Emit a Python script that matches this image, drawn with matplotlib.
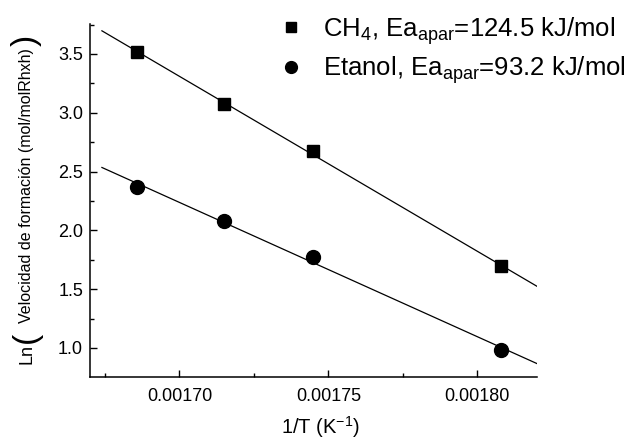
import numpy as np
import matplotlib
matplotlib.use('Agg')
import matplotlib.pyplot as plt
from matplotlib.ticker import MultipleLocator

plt.rcParams['font.family'] = ['Liberation Sans', 'DejaVu Sans']
plt.rcParams['mathtext.fontset'] = 'custom'
plt.rcParams['mathtext.rm'] = 'Liberation Sans'
plt.rcParams['mathtext.it'] = 'Liberation Sans:italic'

# 1/T (K^-1) at 320, 310, 300, 280 C
inv_T = [0.0016859, 0.0017148, 0.0017448, 0.0018078]
ln_ch4 = [3.515, 3.077, 2.672, 1.695]
ln_etanol = [2.365, 2.080, 1.775, 0.980]

label_ch4 = r'CH$_4$, Ea$_{\mathrm{apar}}$=124.5 kJ/mol'
label_etanol = r'Etanol, Ea$_{\mathrm{apar}}$=93.2 kJ/mol'

fit_range = [0.001674, 0.00182]

fig = plt.figure(figsize=(6.33, 4.43), dpi=100)
ax = fig.add_axes([90/633, 1 - 377/443, (537 - 90)/633, (377 - 24)/443])

xfit = np.array(fit_range)
for y in (ln_ch4, ln_etanol):
    p = np.polyfit(inv_T, y, 1)
    ax.plot(xfit, np.polyval(p, xfit), color='black', lw=0.9)

ax.plot(inv_T, ln_ch4, 's', color='black', ms=9, label=label_ch4)
ax.plot(inv_T, ln_etanol, 'o', color='black', ms=10, label=label_etanol)

ax.set_xlim(0.001670, 0.001820)
ax.set_ylim(0.753, 3.755)
ax.xaxis.set_major_locator(MultipleLocator(0.00005))
ax.xaxis.set_minor_locator(MultipleLocator(0.000025))
ax.yaxis.set_major_locator(MultipleLocator(0.5))
ax.yaxis.set_minor_locator(MultipleLocator(0.25))
ax.xaxis.set_major_formatter(matplotlib.ticker.FormatStrFormatter('%.5f'))
ax.yaxis.set_major_formatter(matplotlib.ticker.FormatStrFormatter('%.1f'))

for s in ['top', 'right']:
    ax.spines[s].set_visible(False)
for s in ['left', 'bottom']:
    ax.spines[s].set_linewidth(1.1)

ax.tick_params(axis='both', which='both', direction='in', width=1.0)
ax.tick_params(axis='both', which='major', length=5, labelsize=13)
ax.tick_params(axis='both', which='minor', length=3)
ax.tick_params(axis='x', which='major', pad=8)
ax.tick_params(axis='y', which='major', pad=5)

ax.set_xlabel(r'1/T (K$^{-1}$)', fontsize=14.5, labelpad=8)
ax.xaxis.set_label_coords(0.515, -0.105)
ax.xaxis.label.set_va('top')

# y label built from pieces: "Ln" + big brackets + small text
fig.text(27/633, 1 - 354/443, 'Ln', rotation=90, fontsize=13, ha='center', va='center')
fig.text(26/633, 1 - 337/443, '(', rotation=90, fontsize=24, ha='center', va='center')
fig.text(27/633, 1 - 186/443, 'Velocidad de formación (mol/molRhxh)', rotation=90,
         fontsize=11.5, ha='center', va='center')
fig.text(26/633, 1 - 40/443, ')', rotation=90, fontsize=24, ha='center', va='center')

ax.legend(loc='upper left', bbox_to_anchor=(265/633, 1 - 2/443), bbox_transform=fig.transFigure,
          frameon=False, fontsize=18.5, handlelength=1.0, handletextpad=0.75,
          labelspacing=0.3, borderpad=0, markerscale=0.85)

fig.savefig('out.png', dpi=100)
